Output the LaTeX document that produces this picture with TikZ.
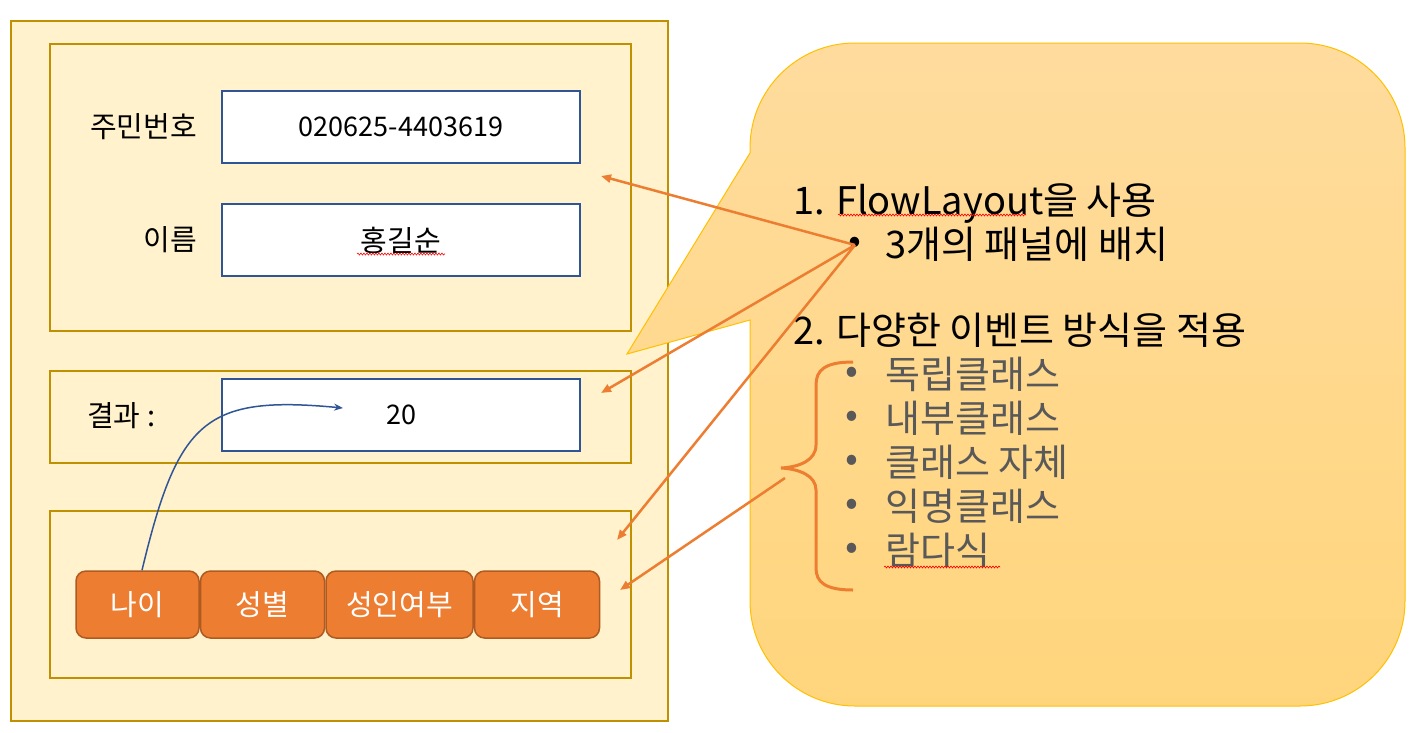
\documentclass[tikz,border=0pt]{standalone}
\usepackage{fontspec}
\setmainfont{Noto Sans CJK KR}
\usetikzlibrary{arrows.meta,positioning,decorations.pathmorphing}
\definecolor{panelfill}{HTML}{FFF2CC}
\definecolor{paneldraw}{HTML}{BF9000}
\definecolor{fielddraw}{HTML}{2F5597}
\definecolor{btnfill}{HTML}{ED7D31}
\definecolor{btndraw}{HTML}{AE5A21}
\definecolor{notetop}{HTML}{FFDC9E}
\definecolor{notebottom}{HTML}{FFD57C}
\definecolor{notedraw}{HTML}{FFC000}
\definecolor{itemgray}{HTML}{595959}
\newcommand\formfont{\fontsize{27}{32}\selectfont}
\newcommand\hangulfont{\fontsize{29}{34}\selectfont}
\newcommand\notefont{\fontsize{38}{45}\selectfont}
\tikzset{
  panel/.style={
      rectangle,
      draw=paneldraw,
      fill=panelfill,
      line width=2pt,
      anchor=north west
  },
  field/.style={
      rectangle,
      draw=fielddraw,
      fill=white,
      line width=2pt,
      minimum width=358pt,
      minimum height=72pt,
      inner sep=0pt,
      font=\formfont
  },
  fieldname/.style={inner sep=0pt,font=\hangulfont},
  btn/.style={
      rectangle,
      rounded corners=10pt,
      draw=btndraw,
      fill=btnfill,
      line width=1.5pt,
      text=white,
      minimum height=67pt,
      inner sep=0pt,
      font=\hangulfont
  },
  notetext/.style={inner sep=0pt,anchor=base west,font=\notefont},
  itemtext/.style={notetext,text=itemgray},
  pointer/.style={-{Triangle[length=10pt,width=8pt]},draw=btnfill,line width=2.5pt},
  spell/.style={draw=red,line width=0.6pt,decorate,decoration={snake,amplitude=1pt,segment length=3pt}}
}
\begin{document}
\begin{tikzpicture}[x=1pt,y=-1pt,node distance=0pt]
    \useasboundingbox (0,0) rectangle (1410,732);
    % form
    \node[panel,minimum width=657pt,minimum height=700pt] (frame) at (10,20) {};
    \node[panel,minimum width=581pt,minimum height=287pt] (inputs) at (49,43) {};
    \node[panel,minimum width=581pt,minimum height=92pt] (result) at (49,370) {};
    \node[panel,minimum width=581pt,minimum height=167pt] (buttons) at (49,510) {};
    \node[fieldname,anchor=east] (idname) at (197,127) {주민번호};
    \node[fieldname,anchor=east] (namename) at (197,240) {이름};
    \node[fieldname,anchor=west] (resname) at (87,416) {결과 :};
    \node[field] (idfield) at (401,126.5) {020625-4403619};
    \node[field,font=\hangulfont] (namefield) at (401,240) {홍길순};
    \node[field] (resfield) at (401,415) {20};
    \node[btn,minimum width=123pt] (age) at (137.5,604.5) {나이};
    \node[btn,minimum width=124pt,right=of age] (gender) {성별};
    \node[btn,minimum width=147pt,right=of gender] (adult) {성인여부};
    \node[btn,minimum width=125pt,right=of adult] (region) {지역};
    \draw[spell] (357,254) -- (445,254);
    % callout
    \path[draw=notedraw,line width=1pt,top color=notetop,bottom color=notebottom]
      (750,153) -- (627,354) -- (750,320) [rounded corners=105pt] -- (750,706) -- (1405,706)
      -- (1405,43) -- (750,43) [sharp corners] -- cycle;
    % notes
    \node[notetext] (flow) at (793,214) {1. FlowLayout을 사용};
    \node[inner sep=0pt,font=\notefont] (dot) at (855,245) {•};
    \node[notetext] (place) at (885,258) {3개의 패널에 배치};
    \node[notetext] (events) at (793,344) {2. 다양한 이벤트 방식을 적용};
    \foreach \txt [count=\i] in {독립클래스,내부클래스,클래스 자체,익명클래스,람다식} {
      \node[inner sep=0pt,font=\notefont,text=itemgray] (dot\i) at (852,331+44*\i) {•};
      \node[itemtext] (item\i) at (885,344+44*\i) {\txt};
    }
    \draw[spell] (838,215) -- (1026,215);
    \draw[spell] (884,567) -- (1000,567);
    % brace
    \draw[btnfill,line width=3pt] (853,362) .. controls (825,362) and (816,370) .. (816,385) -- (816,445)
      .. controls (816,460) and (800,467) .. (781,468) .. controls (800,469) and (816,476) .. (816,490)
      -- (816,568) .. controls (816,582) and (825,590) .. (853,590);
    \coordinate (bracetip) at (785,478);
    \coordinate (toinputs) at (601,176);
    \coordinate (toresult) at (601,393);
    \coordinate (topanel) at (617,540);
    \coordinate (tobuttons) at (620,590);
    \draw[pointer] (dot.center) -- (toinputs);
    \draw[pointer] (dot.center) -- (toresult);
    \draw[pointer] (dot.center) -- (topanel);
    \draw[pointer] (bracetip) -- (tobuttons);
    % event
    \coordinate (shown) at (343,408);
    \draw[fielddraw,line width=1.5pt,-{Stealth[length=9pt,width=7pt]}]
      ([xshift=4.5pt]age.north) .. controls (178,420) and (205,395) .. (shown);
\end{tikzpicture}
\end{document}
